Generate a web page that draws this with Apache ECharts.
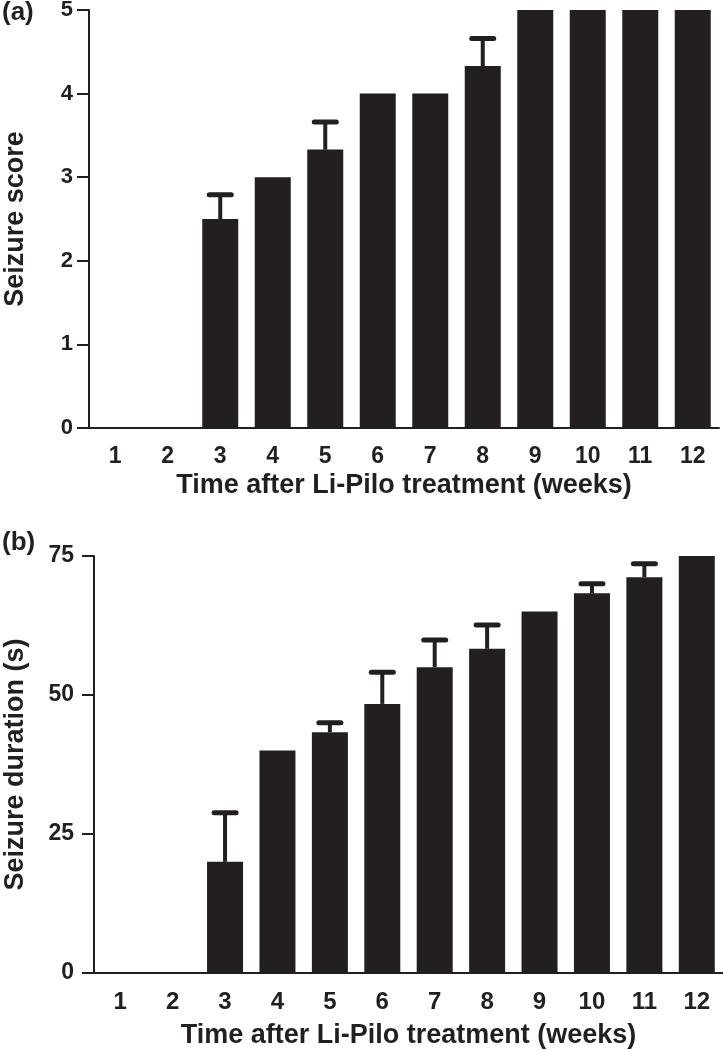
<!DOCTYPE html>
<html>
<head>
<meta charset="utf-8">
<script src="https://cdn.jsdelivr.net/npm/echarts@6/dist/echarts.min.js"></script>
<style>
  html, body { margin: 0; padding: 0; background: #fff; }
  #chart { width: 723px; height: 1050px; }
</style>
</head>
<body>
<div id="chart"></div>
<script>
const weeks = ['1', '2', '3', '4', '5', '6', '7', '8', '9', '10', '11', '12']
const scoreMean = [0, 0, 2.5, 3, 3.33, 4, 4, 4.33, 5, 5, 5, 5]
const scoreErr = [0, 0, 0.29, 0, 0.33, 0, 0, 0.33, 0, 0, 0, 0]
const durationMean = [0, 0, 20, 40, 43.3, 48.4, 55, 58.3, 65, 68.3, 71.2, 75]
const durationErr = [0, 0, 8.8, 0, 1.7, 5.7, 4.9, 4.3, 0, 1.7, 2.4, 0]
const scoreTicks = [0, 1, 2, 3, 4, 5]
const durationTicks = [0, 25, 50, 75]

const ink = '#231f20'
const font = 'Liberation Sans, Arial, Helvetica, sans-serif'

function errRows(mean, err) {
  return mean.map((m, i) => [i, m + err[i], m])
}

function drawErr(params, api) {
  const top = api.value(1)
  const base = api.value(2)
  if (top <= base) return
  const p0 = api.coord([api.value(0), base])
  const p1 = api.coord([api.value(0), top])
  const half = 11
  return {
    type: 'group',
    children: [
      { type: 'line', shape: { x1: p0[0], y1: p0[1], x2: p1[0], y2: p1[1] },
        style: { stroke: ink, lineWidth: 4 } },
      { type: 'line', shape: { x1: p1[0] - half, y1: p1[1], x2: p1[0] + half, y2: p1[1] },
        style: { stroke: ink, lineWidth: 5, lineCap: 'round' } }
    ]
  }
}

function xAx(idx, size, gap) {
  return {
    type: 'category', gridIndex: idx, data: weeks,
    name: 'Time after Li-Pilo treatment (weeks)', nameLocation: 'middle', nameGap: gap,
    nameTextStyle: { fontFamily: font, fontWeight: 'bold', fontSize: 27, color: ink },
    axisLine: { lineStyle: { color: ink, width: 2 } },
    axisTick: { alignWithLabel: true, length: 12, lineStyle: { color: ink, width: 2 } },
    axisLabel: { fontFamily: font, fontWeight: 'bold', fontSize: size, color: ink, margin: 17 }
  }
}

function yAx(idx, name, ticks, size, gap, margin) {
  return {
    type: 'value', gridIndex: idx, min: ticks[0], max: ticks[ticks.length - 1],
    interval: ticks[1] - ticks[0],
    name: name, nameLocation: 'middle', nameGap: gap, nameRotate: 90,
    nameTextStyle: { fontFamily: font, fontWeight: 'bold', fontSize: 27, color: ink },
    splitLine: { show: false },
    axisLine: { show: true, lineStyle: { color: ink, width: 2 } },
    axisTick: { show: true, length: 12, lineStyle: { color: ink, width: 2 } },
    axisLabel: { fontFamily: font, fontWeight: 'bold', fontSize: size, color: ink, margin: margin }
  }
}

const chart = echarts.init(document.getElementById('chart'))
chart.setOption({
  animation: false,
  graphic: [
    { type: 'text', left: 2, top: 0, style: { text: '(a)', font: 'bold 26px ' + font, fill: ink } },
    { type: 'text', left: 2, top: 530, style: { text: '(b)', font: 'bold 26px ' + font, fill: ink } }
  ],
  grid: [
    { left: 89, top: 10, width: 630, height: 418, outerBoundsMode: 'none' },
    { left: 94, top: 556, width: 629, height: 417, outerBoundsMode: 'none' }
  ],
  xAxis: [xAx(0, 23, 44), xAx(1, 24, 49)],
  yAxis: [
    yAx(0, 'Seizure score', scoreTicks, 22, 60, 16),
    yAx(1, 'Seizure duration (s)', durationTicks, 23, 65, 20)
  ],
  series: [
    { type: 'bar', xAxisIndex: 0, yAxisIndex: 0, data: scoreMean, barWidth: 36,
      itemStyle: { color: ink } },
    { type: 'custom', xAxisIndex: 0, yAxisIndex: 0, data: errRows(scoreMean, scoreErr),
      renderItem: drawErr, z: 3 },
    { type: 'bar', xAxisIndex: 1, yAxisIndex: 1, data: durationMean, barWidth: 36,
      itemStyle: { color: ink } },
    { type: 'custom', xAxisIndex: 1, yAxisIndex: 1, data: errRows(durationMean, durationErr),
      renderItem: drawErr, z: 3 }
  ]
})
</script>
</body>
</html>
